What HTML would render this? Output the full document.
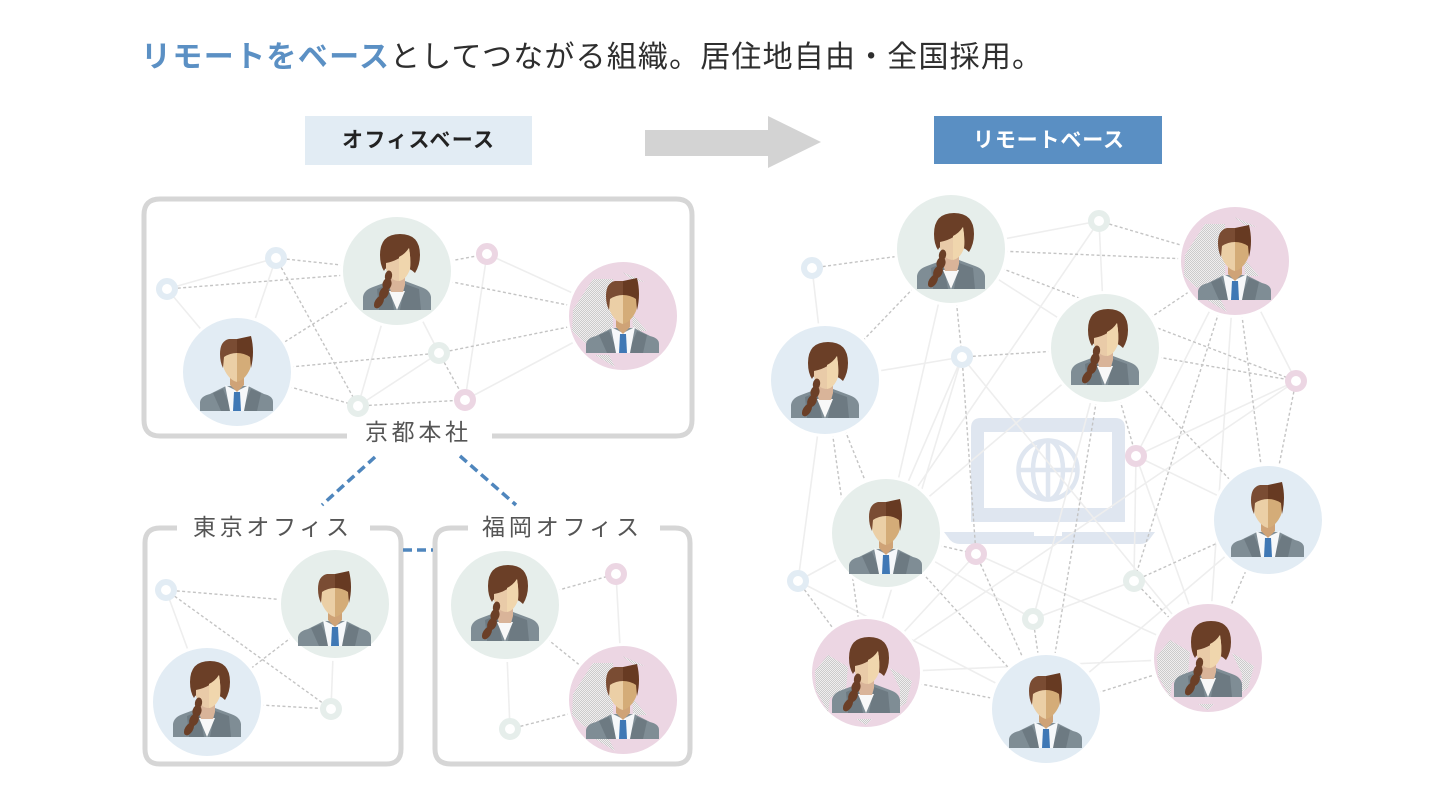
<!DOCTYPE html>
<html lang="ja">
<head>
<meta charset="utf-8">
<title>リモートをベースとしてつながる組織</title>
<style>
html,body{margin:0;padding:0;background:#fff;width:1432px;height:810px;overflow:hidden}
svg{display:block;filter:blur(.35px)}
text{font-family:"Liberation Sans","Noto Sans CJK JP",sans-serif}
.sol{fill:none;stroke:#eeeeee;stroke-width:1.6}
.dot{fill:none;stroke:#c4c4c4;stroke-width:1.4;stroke-dasharray:3 2.4}
.box{fill:none;stroke:#d6d6d6;stroke-width:5;stroke-linecap:butt}
.blue{fill:none;stroke:#4f86bd;stroke-width:3.5;stroke-dasharray:9 5}
.rb{fill:#fff;stroke:#e2ecf4;stroke-width:6}
.rg{fill:#fff;stroke:#e6eeeb;stroke-width:6}
.rp{fill:#fff;stroke:#ecd6e3;stroke-width:6}
.lbl{font-size:23px;fill:#555}
</style>
</head>
<body>
<svg width="1432" height="810" viewBox="0 0 1432 810" xmlns="http://www.w3.org/2000/svg">
<defs>
<pattern id="dith" width="2" height="2" patternUnits="userSpaceOnUse">
  <rect width="2" height="2" fill="#f0eeef"/>
  <rect width="1" height="1" fill="#cbcbcb"/>
  <rect x="1" y="1" width="1" height="1" fill="#cbcbcb"/>
</pattern>
<g id="man">
  <path d="M-37 37V28Q-36 22-27 20L-11 12H11L27 20Q36 22 36 28V37Z" fill="#7f8d95"/>
  <path d="M-14 15L-5 37H-16L-24 19ZM14 15L5 37H20L24 19Z" fill="#6d7a82"/>
  <path d="M-12 11L0 17L12 11L7 37H-7Z" fill="#f6f8fa"/>
  <path d="M-7 0H7V11L0 18L-7 11Z" fill="#cfa377"/>
  <path d="M-3 18H3L4 37H-4Z" fill="#3f78b5"/>
  <path d="M0 -28H-14Q-15 -10-13 -5Q-8 6 0 8Z" fill="#ebcfa6"/>
  <path d="M0 -28H14Q15 -10 13 -5Q8 6 0 8Z" fill="#d4ac78"/>
  <path d="M0 -35H-8Q-17 -33-17 -20Q-17 -12-14 -6L-13 -17Q-7 -21 0 -21Z" fill="#7a4c33"/>
  <path d="M0 -35L14 -38Q18 -22 14 -6L13 -17Q7 -21 0 -21Z" fill="#673a22"/>
</g>
<g id="woman">
  <path d="M-34 39V26Q-33 19-24 16L-8 10H8L24 16Q33 19 34 26V39Z" fill="#7f8d95"/>
  <path d="M8 13L3 39H24L22 18ZM-8 13L-3 39H-18L-20 18Z" fill="#6d7a82"/>
  <path d="M-8 20H8L0 39Z" fill="#f8f8f8"/>
  <path d="M-8 2H8V14L6 21H-6L-8 14Z" fill="#d9b499"/>
  <path d="M-17 -16Q-17 -37 3 -37Q23 -37 23 -16Q23 -6 18 2Q12 -4 4 -4H-8Q-12 -3-13 0Q-17 -6-17 -16Z" fill="#6b3f27"/>
  <path d="M-11 -8Q5 -11 12 -23Q14 -12 13 -2Q9 9 1 10Q-8 9-11 -2Z" fill="#e9cba8"/>
  <path d="M2 -14Q8 -17 12 -23Q14 -12 13 -2Q9 9 2 10Z" fill="#f0d6ad"/>
  <g fill="#6b3f27">
    <ellipse cx="-8.500" cy="5" rx="3.600" ry="5.500" transform="rotate(10 -8.500 5)"/>
    <ellipse cx="-10" cy="13" rx="4.500" ry="6" transform="rotate(15 -10 13)"/>
    <ellipse cx="-13" cy="22" rx="4.500" ry="6.500" transform="rotate(25 -13 22)"/>
    <ellipse cx="-18" cy="31" rx="4" ry="7" transform="rotate(32 -18 31)"/>
  </g>
</g>
<g id="dm">
  <path d="M-50 -6L-30 -37L-10 -37V14L-38 27L-51 15ZM9 -2L24 15L10 15ZM-1 -44L22 -34L10 -36ZM-28 39L-8 51L-14 39Z" fill="url(#dith)"/>
</g>
<g id="dw">
  <path d="M-51 -2L-38 -18L-18 -6L-20 16L-36 25L-38 39L-50 18ZM24 -5L46 8L40 30L34 34L34 16ZM-10 46L6 46L0 52Z" fill="url(#dith)"/>
</g>
</defs>

<rect width="1432" height="810" fill="#fff"/>

<!-- Title -->
<text x="141" y="67" font-size="30" font-weight="700" fill="#5b90c4" textLength="248" lengthAdjust="spacing">リモートをベース</text>
<text x="390" y="67" font-size="30" fill="#2e2e2e" textLength="652" lengthAdjust="spacing">としてつながる組織。居住地自由・全国採用。</text>

<!-- Header -->
<rect x="305" y="116" width="227" height="49" fill="#e2ecf4"/>
<text x="342" y="147" font-size="21" font-weight="700" fill="#222" textLength="152" lengthAdjust="spacing">オフィスベース</text>
<path d="M645 130H768V116L821 142L768 168V156H645Z" fill="#d3d3d3"/>
<rect x="934" y="116" width="228" height="48" fill="#5a8fc3"/>
<text x="973" y="147" font-size="21" font-weight="700" fill="#fff" textLength="151" lengthAdjust="spacing">リモートベース</text>

<!-- Left boxes -->
<path class="box" d="M347 436H160Q144 436 144 420V215Q144 199 160 199H676Q692 199 692 215V420Q692 436 676 436H492"/>
<path class="box" d="M177 528H160Q145 528 145 543V749Q145 764 160 764H386Q401 764 401 749V543Q401 528 386 528H370"/>
<path class="box" d="M468 528H451Q435 528 435 543V749Q435 764 451 764H675Q690 764 690 749V543Q690 528 675 528H660"/>
<path class="blue" d="M375 457L322 505M460 456L516 505M403 550H433"/>
<text class="lbl" x="365" y="440" textLength="103" lengthAdjust="spacing">京都本社</text>
<text class="lbl" x="193" y="535" textLength="156" lengthAdjust="spacing">東京オフィス</text>
<text class="lbl" x="482" y="535" textLength="157" lengthAdjust="spacing">福岡オフィス</text>

<!-- Left network lines -->
<path class="sol" d="M167 289L276 258M167 289L237 372M276 258L237 372M397 271L358 406M397 271L439 353M439 353L358 406M487 254L465 400M487 254L623 316M465 400L623 316
M166 590L207 702M335 604L331 709M616 574L623 700M505 605L510 729"/>
<path class="dot" d="M276 258L397 271M167 289L397 271M276 258L358 406M397 271L237 372M397 271L487 254M397 271L623 316M237 372L439 353M439 353L623 316M237 372L358 406M358 406L465 400M439 353L465 400
M166 590L335 604M166 590L331 709M335 604L207 702M207 702L331 709
M505 605L616 574M505 605L623 700M510 729L623 700"/>

<!-- Laptop -->
<path d="M981 418H1115Q1125 418 1125 428V522H971V428Q971 418 981 418ZM984 432V508H1112V432Z" fill="#dfe6f0" fill-rule="evenodd"/>
<path d="M944 532H1034V536H1062V532H1155L1149 540Q1146 544 1140 544H960Q954 544 950 540Z" fill="#dfe6f0"/>
<g fill="none" stroke="#dfe6f0" stroke-width="4.500">
  <circle cx="1048" cy="470" r="29.500"/>
  <ellipse cx="1048" cy="470" rx="15" ry="29.500"/>
  <path d="M1048 440V500M1018 470H1078"/>
</g>

<!-- Right network lines -->
<path class="sol" d="M812 268L825 380M951 249L1099 221M1099 221L1105 348M1099 221L886 533M951 249L1105 348M951 249L886 533M825 380L962 357M962 357L886 533M962 357L1208 658M1105 348L886 533M825 380L798 581M886 533L798 581M798 581L1046 709M1235 261L1136 456M1235 261L1208 658M1136 456L1296 381M1296 381L866 673M1136 456L1268 520M1136 456L1208 658M1136 456L1134 581M976 554L1208 658M976 554L866 673M886 533L1033 619M1033 619L1134 581M1033 619L1105 348M1268 520L1046 709M866 673L1208 658M1235 261L1296 381M962 357L866 673"/>
<path class="dot" d="M812 268L951 249M1099 221L1235 261M951 249L1235 261M951 249L1296 381M951 249L825 380M951 249L962 357M962 357L1105 348M962 357L976 554M1105 348L1235 261M1105 348L1296 381M1235 261L1134 581M1235 261L1268 520M1296 381L1268 520M1105 348L1136 456M1105 348L1046 709M1105 348L1268 520M825 380L886 533M825 380L866 673M886 533L1046 709M976 554L1046 709M1033 619L1046 709M798 581L866 673M866 673L1046 709M1046 709L1208 658M1134 581L1208 658M1134 581L1268 520M1208 658L1268 520M886 533L976 554"/>

<!-- Rings -->
<circle class="rb" cx="276" cy="258" r="8"/><circle class="rb" cx="167" cy="289" r="8"/>
<circle class="rp" cx="487" cy="254" r="8"/><circle class="rg" cx="439" cy="353" r="8"/>
<circle class="rg" cx="358" cy="406" r="8"/><circle class="rp" cx="465" cy="400" r="8"/>
<circle class="rb" cx="166" cy="590" r="8"/><circle class="rg" cx="331" cy="709" r="8"/>
<circle class="rp" cx="616" cy="574" r="8"/><circle class="rg" cx="510" cy="729" r="8"/>
<circle class="rb" cx="812" cy="268" r="8"/><circle class="rg" cx="1099" cy="221" r="8"/>
<circle class="rb" cx="962" cy="357" r="8"/><circle class="rp" cx="1296" cy="381" r="8"/>
<circle class="rp" cx="1136" cy="456" r="8"/><circle class="rp" cx="976" cy="554" r="8"/>
<circle class="rb" cx="798" cy="581" r="8"/><circle class="rg" cx="1134" cy="581" r="8"/>
<circle class="rg" cx="1033" cy="619" r="8"/>

<!-- Avatars -->
<g stroke="#fff" stroke-width="3">
<circle cx="397" cy="271" r="55.500" fill="#e6eeeb"/>
<circle cx="623" cy="316" r="55.500" fill="#ecd6e3"/>
<circle cx="237" cy="372" r="55.500" fill="#e2ecf4"/>
<circle cx="335" cy="604" r="55.500" fill="#e6eeeb"/>
<circle cx="207" cy="702" r="55.500" fill="#e2ecf4"/>
<circle cx="505" cy="605" r="55.500" fill="#e6eeeb"/>
<circle cx="623" cy="700" r="55.500" fill="#ecd6e3"/>
<circle cx="951" cy="249" r="55.500" fill="#e6eeeb"/>
<circle cx="1235" cy="261" r="55.500" fill="#ecd6e3"/>
<circle cx="825" cy="380" r="55.500" fill="#e2ecf4"/>
<circle cx="1105" cy="348" r="55.500" fill="#e6eeeb"/>
<circle cx="1268" cy="520" r="55.500" fill="#e2ecf4"/>
<circle cx="886" cy="533" r="55.500" fill="#e6eeeb"/>
<circle cx="866" cy="673" r="55.500" fill="#ecd6e3"/>
<circle cx="1046" cy="709" r="55.500" fill="#e2ecf4"/>
<circle cx="1208" cy="658" r="55.500" fill="#ecd6e3"/>
</g>
<use href="#dm" x="623" y="316"/>
<use href="#dm" x="623" y="700"/>
<use href="#dm" x="1235" y="261"/>
<use href="#dw" x="866" y="673"/>
<use href="#dw" x="1208" y="658"/>

<use href="#woman" x="397" y="271"/>
<use href="#man" x="623" y="316"/>
<use href="#man" x="237" y="374"/>
<use href="#man" x="335" y="609"/>
<use href="#woman" x="207" y="698"/>
<use href="#woman" x="505" y="602"/>
<use href="#man" x="623" y="702"/>
<use href="#woman" x="951" y="250"/>
<use href="#man" x="1235" y="263"/>
<use href="#woman" x="825" y="379"/>
<use href="#woman" x="1105" y="346"/>
<use href="#man" x="1268" y="520"/>
<use href="#man" x="886" y="537"/>
<use href="#woman" x="866" y="674"/>
<use href="#man" x="1046" y="711"/>
<use href="#woman" x="1208" y="658"/>
</svg>
</body>
</html>
